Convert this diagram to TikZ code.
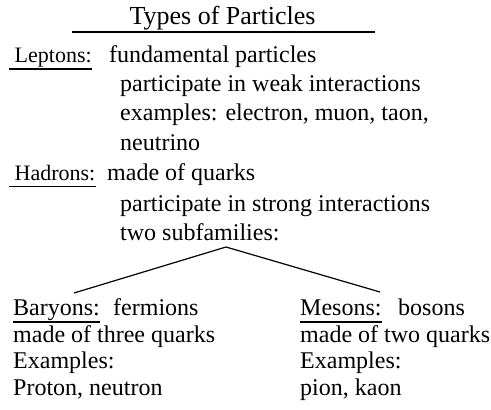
\documentclass[tikz,border=0pt]{standalone}
\usepackage{fontspec}
\setmainfont{Liberation Serif}
\usetikzlibrary{calc}

\begin{document}
\begin{tikzpicture}[x=1pt, y=-1pt,
  every node/.style={inner sep=0pt, anchor=base west, font=\fontsize{24}{29}\selectfont},
  family/.style={font=\fontsize{22}{27}\selectfont},
  rule/.style={line width=1.6pt},
  link/.style={line width=1.2pt}]
\useasboundingbox (0,0) rectangle (491,410);

% Title
\node[anchor=base, font=\fontsize{26}{31}\selectfont] (title) at (222.5,24) {Types of Particles};
\draw[rule] (72,32) -- (375,32);

% Leptons
\node[family] (lep) at (9,62) {\ Leptons:};
\draw[rule] ([yshift=-7pt]lep.base west) -- ([yshift=-7pt]lep.base east);
\node (lep1) at (109,62) {fundamental particles};
\node (lep2) at (120,91) {participate in weak interactions};
\node (lep3) at (120,120) {examples: electron, muon, taon,};
\node (lep4) at (120,150) {neutrino};

% Hadrons
\node[family] (had) at (9,180.5) {\ Hadrons:};
\draw[rule] ([yshift=-6pt]had.base west) -- ([yshift=-6pt]had.base east);
\node (had1) at (107,180.5) {made of quarks};
\node (had2) at (120,211) {participate in strong interactions};
\node (had3) at (120,240) {two subfamilies:};

% Branches
\coordinate (fork) at (226,247);
\coordinate (bartop) at (74,293);
\coordinate (mestop) at (380,292);
\draw[link] (bartop) -- (fork) -- (mestop);

% Baryons
\node (bar) at (13,315.5) {Baryons:};
\draw[rule] ([yshift=-6.5pt]bar.base west) -- ([yshift=-6.5pt]bar.base east);
\node (bar1) at (113,315.5) {fermions};
\node (bar2) at (13,342) {made of three quarks};
\node (bar3) at (13,368) {Examples:};
\node (bar4) at (13,395) {Proton, neutron};

% Mesons
\node (mes) at (300,315.5) {Mesons:};
\draw[rule] ([yshift=-6.5pt]mes.base west) -- ([yshift=-6.5pt]mes.base east);
\node (mes1) at (398,315.5) {bosons};
\node (mes2) at (300,342) {made of two quarks};
\node (mes3) at (300,368) {Examples:};
\node (mes4) at (300,395) {pion, kaon};
\end{tikzpicture}
\end{document}
